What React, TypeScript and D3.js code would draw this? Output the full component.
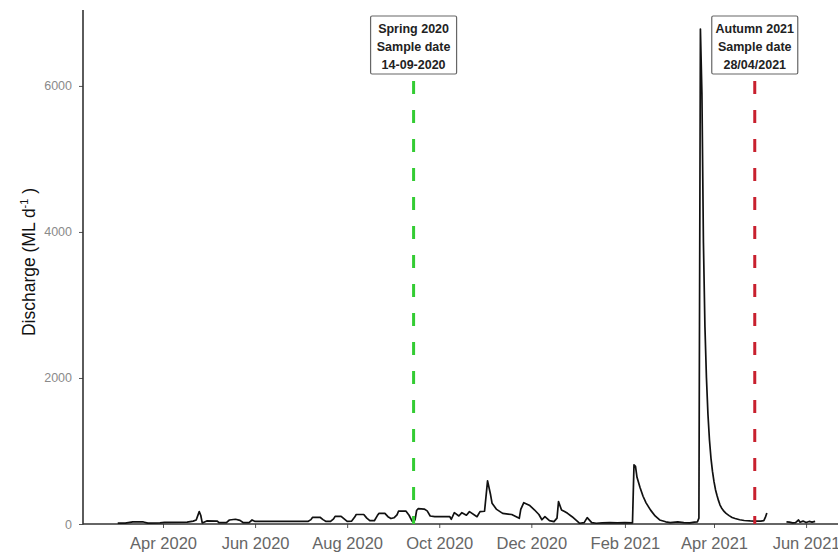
import React, { useEffect, useRef } from 'react';
import * as d3 from 'd3';

const dates: string[] = [
  '2020-03-02', '2020-03-07', '2020-03-12', '2020-03-19', '2020-03-22', '2020-03-30',
  '2020-04-02', '2020-04-17', '2020-04-21', '2020-04-23', '2020-04-25', '2020-04-26',
  '2020-04-27', '2020-04-30', '2020-05-07', '2020-05-08', '2020-05-13', '2020-05-15',
  '2020-05-19', '2020-05-22', '2020-05-24', '2020-05-28', '2020-05-30', '2020-06-01',
  '2020-06-20', '2020-07-06', '2020-07-08', '2020-07-09', '2020-07-14', '2020-07-16',
  '2020-07-18', '2020-07-21', '2020-07-23', '2020-07-24', '2020-07-28', '2020-07-30',
  '2020-08-01', '2020-08-04', '2020-08-06', '2020-08-07', '2020-08-12', '2020-08-14',
  '2020-08-16', '2020-08-19', '2020-08-21', '2020-08-22', '2020-08-26', '2020-08-28',
  '2020-08-30', '2020-09-01', '2020-09-03', '2020-09-04', '2020-09-09', '2020-09-11',
  '2020-09-13', '2020-09-14', '2020-09-15', '2020-09-16', '2020-09-17', '2020-09-21',
  '2020-09-23', '2020-09-25', '2020-09-28', '2020-10-08', '2020-10-09', '2020-10-11',
  '2020-10-14', '2020-10-16', '2020-10-19', '2020-10-21', '2020-10-26', '2020-10-28',
  '2020-10-31', '2020-11-02', '2020-11-04', '2020-11-05', '2020-11-08', '2020-11-12',
  '2020-11-18', '2020-11-23', '2020-11-24', '2020-11-26', '2020-11-30', '2020-12-03',
  '2020-12-06', '2020-12-08', '2020-12-10', '2020-12-13', '2020-12-16', '2020-12-18',
  '2020-12-19', '2020-12-21', '2020-12-23', '2020-12-25', '2020-12-28', '2020-12-31',
  '2021-01-02', '2021-01-05', '2021-01-07', '2021-01-10', '2021-01-13', '2021-01-17',
  '2021-01-22', '2021-01-27', '2021-02-01', '2021-02-06', '2021-02-07', '2021-02-08',
  '2021-02-09', '2021-02-11', '2021-02-13', '2021-02-15', '2021-02-18', '2021-02-21',
  '2021-02-24', '2021-02-28', '2021-03-03', '2021-03-08', '2021-03-12', '2021-03-16',
  '2021-03-19', '2021-03-21', '2021-03-22', '2021-03-23', '2021-03-24', '2021-03-25',
  '2021-03-26', '2021-03-27', '2021-03-28', '2021-03-29', '2021-03-30', '2021-03-31',
  '2021-04-01', '2021-04-02', '2021-04-03', '2021-04-04', '2021-04-05', '2021-04-06',
  '2021-04-07', '2021-04-08', '2021-04-09', '2021-04-11', '2021-04-13', '2021-04-15',
  '2021-04-18', '2021-04-21', '2021-04-25', '2021-04-28', '2021-05-02', '2021-05-04',
  '2021-05-05', '2021-05-06', '2021-05-12', '2021-05-19', '2021-05-21', '2021-05-23',
  '2021-05-25', '2021-05-27', '2021-05-28', '2021-05-30', '2021-06-01', '2021-06-03',
  '2021-06-05', '2021-06-07',
];

const discharge: (number | null)[] = [
  12, 12, 30, 28, 12, 15,
  23, 25, 40, 55, 170, 120,
  15, 42, 40, 20, 20, 55,
  65, 50, 20, 20, 55, 35,
  35, 35, 60, 90, 92, 60,
  35, 35, 70, 105, 105, 70,
  35, 40, 95, 130, 130, 80,
  45, 45, 115, 145, 145, 100,
  75, 85, 125, 175, 175, 120,
  40, 25, 60, 185, 210, 205,
  180, 110, 100, 100, 65, 155,
  110, 155, 120, 170, 100, 170,
  175, 590, 400, 283, 200, 146,
  130, 78, 200, 292, 253, 195,
  130, 58, 100, 46, 32, 80,
  306, 192, 170, 146, 100, 46,
  10, 18, 87, 18, 10, 15,
  20, 15, 18, 15, 810, 790,
  640, 500, 380, 290, 190, 110,
  55, 30, 20, 30, 20, 15,
  25, 30, 80, 6780, 5900, 3850,
  2700, 2000, 1500, 1150, 900, 720,
  580, 470, 390, 320, 260, 220,
  190, 165, 145, 115, 90, 75,
  58, 48, 42, 40, 40, 45,
  90, 150, null, 30, 25, 15,
  20, 55, 25, 40, 20, 35,
  25, 35,
];

const yTicks = [0, 2000, 4000, 6000];
const xTickDates = ['2020-04-01', '2020-06-01', '2020-08-01', '2020-10-01', '2020-12-01', '2021-02-01', '2021-04-01', '2021-06-01'];

const samples = [
  { date: '2020-09-14', lines: ['Spring 2020', 'Sample date', '14-09-2020'], color: '#33cc33' },
  { date: '2021-04-28', lines: ['Autumn 2021', 'Sample date', '28/04/2021'], color: '#c8202e' },
];

const W = 838;
const H = 556;

const App: React.FC = () => {
  const ref = useRef<SVGSVGElement | null>(null);

  useEffect(() => {
    if (!ref.current) return;
    const svg = d3.select(ref.current);
    svg.selectAll('*').remove();

    const parse = d3.utcParse('%Y-%m-%d');
    const left = 83;
    const bottom = 524;

    const x = d3.scaleUtc()
      .domain([parse('2020-04-01')!, parse('2021-04-01')!])
      .range([163, 714]);
    const y = d3.scaleLinear().domain([0, 7040]).range([bottom, 10]);

    const font = 'Liberation Sans, Arial, sans-serif';

    // y axis
    const gy = svg.append('g').attr('transform', `translate(${left},0)`)
      .call(d3.axisLeft(y).tickValues(yTicks).tickSize(4).tickPadding(7).tickFormat(d3.format('d')));
    gy.select('.domain').remove();
    gy.selectAll('.tick line').attr('stroke', '#555');
    gy.selectAll('.tick text').attr('fill', '#8a8a8a').style('font-size', '12.5px').style('font-family', font);

    // x axis
    const gx = svg.append('g').attr('transform', `translate(0,${bottom})`)
      .call(d3.axisBottom(x).tickValues(xTickDates.map(d => parse(d)!)).tickSize(4).tickPadding(9)
        .tickFormat(d => d3.utcFormat('%b %Y')(d as Date)));
    gx.select('.domain').remove();
    gx.selectAll('.tick line').attr('stroke', '#555');
    gx.selectAll('.tick text').attr('fill', '#666').style('font-size', '16.5px').style('font-family', font);

    // axis lines
    svg.append('line').attr('x1', left).attr('x2', left).attr('y1', 10).attr('y2', bottom + 0.5)
      .attr('stroke', '#333').attr('stroke-width', 1.6);
    svg.append('line').attr('x1', left).attr('x2', W).attr('y1', bottom).attr('y2', bottom)
      .attr('stroke', '#333').attr('stroke-width', 1.6);

    // y title
    const title = svg.append('text')
      .attr('transform', `translate(35,262) rotate(-90)`)
      .attr('text-anchor', 'middle')
      .style('font-family', font).style('font-size', '17.5px').attr('fill', '#111');
    title.append('tspan').text('Discharge (ML d');
    title.append('tspan').text('-1').attr('dy', -7).style('font-size', '11px');
    title.append('tspan').text(' )').attr('dy', 7);

    // hydrograph
    const pts = dates.map((d, i) => ({ t: parse(d)!, v: discharge[i] }));
    const line = d3.line<{ t: Date; v: number | null }>()
      .defined(d => d.v !== null)
      .x(d => x(d.t))
      .y(d => y(d.v as number));
    svg.append('path').datum(pts).attr('d', line)
      .attr('fill', 'none').attr('stroke', '#111').attr('stroke-width', 1.7).attr('stroke-linejoin', 'round');

    // sample date markers
    samples.forEach(s => {
      const sx = x(parse(s.date)!);
      svg.append('line').attr('x1', sx).attr('x2', sx).attr('y1', 81).attr('y2', bottom)
        .attr('stroke', s.color).attr('stroke-width', 3).attr('stroke-dasharray', '13 16');
      svg.append('rect').attr('x', sx - 43).attr('y', 16).attr('width', 86).attr('height', 58)
        .attr('fill', '#fff').attr('stroke', '#666').attr('stroke-width', 1.2).attr('rx', 1.5);
      s.lines.forEach((l, i) => {
        svg.append('text').attr('x', sx).attr('y', 33 + i * 18).attr('text-anchor', 'middle')
          .style('font-family', font).style('font-size', '12.5px').style('font-weight', 'bold')
          .attr('fill', '#222').text(l);
      });
    });
  }, []);

  return <svg ref={ref} width={W} height={H} style={{ position: 'absolute', left: 0, top: 0, background: '#fff' }} />;
};

export default App;
